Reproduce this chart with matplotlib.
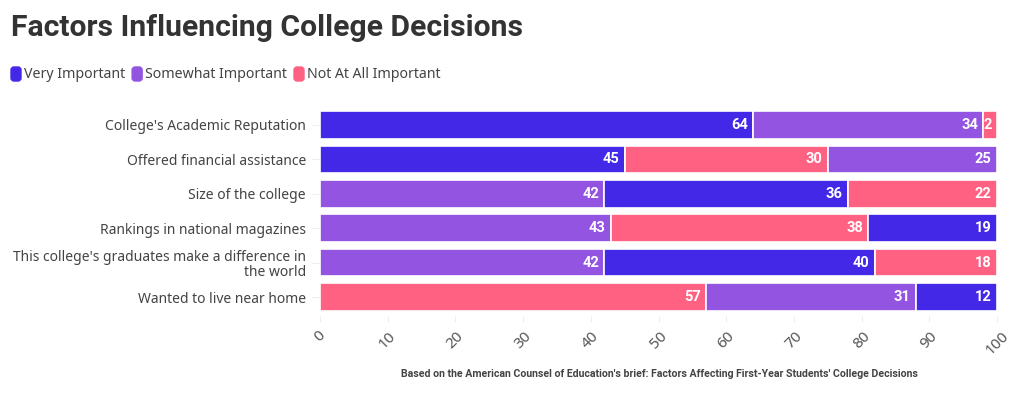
import numpy as np
import matplotlib.pyplot as plt
from matplotlib.patches import FancyBboxPatch
from matplotlib.transforms import IdentityTransform

# Données
factors = ["College's Academic Reputation", "Offered financial assistance",
           "Size of the college", "Rankings in national magazines",
           "This college's graduates make a difference in\nthe world",
           "Wanted to live near home"]
very = [64, 45, 36, 19, 40, 12]
somewhat = [34, 25, 42, 43, 42, 31]
not_at_all = [2, 30, 22, 38, 18, 57]

series = ["Very Important", "Somewhat Important", "Not At All Important"]
colors = ["#4328e7", "#9254e1", "#ff6183"]
ticks = [0, 10, 20, 30, 40, 50, 60, 70, 80, 90, 100]

plt.rcParams['font.family'] = ['Noto Sans', 'DejaVu Sans']
bold_family = ['Roboto', 'DejaVu Sans']

fig = plt.figure(figsize=(10.2, 4), dpi=100)
ax = fig.add_axes([320 / 1020, 1 - 316 / 400, 677 / 1020, 210 / 400])

vals = np.array([very, somewhat, not_at_all])
y = np.arange(len(factors))
for i in range(len(factors)):
    order = np.argsort(-vals[:, i], kind="stable")
    left = 0
    for k in order:
        v = vals[k, i]
        ax.barh(y[i], v, left=left, height=0.8, color=colors[k],
                edgecolor="white", linewidth=1.2)
        ax.text(left + v - 0.8, y[i], str(v), ha="right", va="center",
                color="white", fontsize=10.5, fontweight="bold", family=bold_family)
        left += v

ax.set_yticks(y)
ax.set_yticklabels(factors, fontsize=10, color="#444444", linespacing=1.0)
ax.invert_yaxis()
ax.set_ylim(len(factors) - 0.5 + 0.05, -0.5 - 0.05)
ax.set_xlim(0, 100)
ax.set_xticks(ticks)
ax.set_xticklabels([str(t) for t in ticks], rotation=45, fontsize=11,
                   color="#555555", ha="center", va="top")
ax.tick_params(axis="x", length=4, color="#eeeeee", pad=5)
ax.tick_params(axis="y", length=6, color="#eeeeee", pad=4)
for s in ["top", "right", "bottom", "left"]:
    ax.spines[s].set_visible(False)

fig.text(11 / 1020, 1 - 28 / 400, "Factors Influencing College Decisions",
         fontsize=21.7, fontweight="bold", color="#333333", va="center",
         family=bold_family)

# légende
lx = 11
for name, c in zip(series, colors):
    fig.patches.append(FancyBboxPatch((lx, 400 - 81), 10, 14,
                                      boxstyle="round,pad=0,rounding_size=3",
                                      transform=IdentityTransform(), color=c))
    t = fig.text((lx + 13) / 1020, 1 - 74 / 400, name, fontsize=10.2,
                 color="#444444", va="center")
    fig.canvas.draw()
    bb = t.get_window_extent()
    lx = bb.x1 + 7

fig.text(659 / 1020, 1 - 374 / 400,
         "Based on the American Counsel of Education's brief: Factors Affecting First-Year Students' College Decisions",
         ha="center", va="center", fontsize=7.55, fontweight="bold", color="#444444",
         family=bold_family)

fig.savefig("out.png", dpi=100)
